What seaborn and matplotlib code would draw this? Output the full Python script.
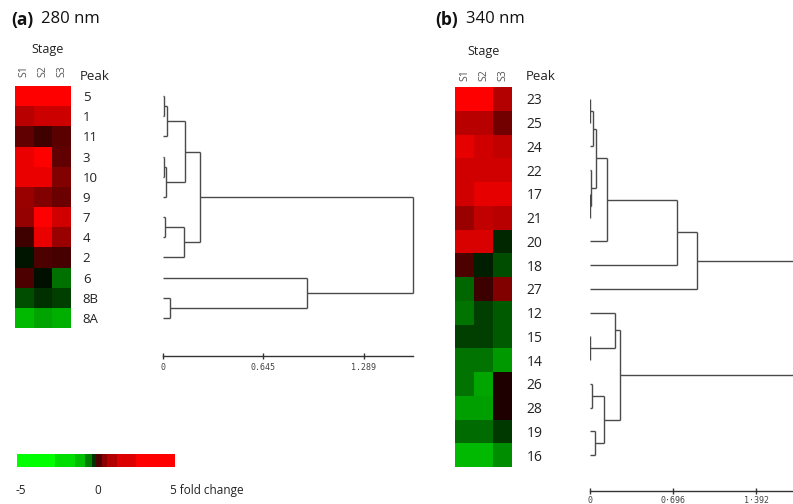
import numpy as np
import pandas as pd
import matplotlib
matplotlib.use("Agg")
import matplotlib.pyplot as plt
from matplotlib.colors import LinearSegmentedColormap, Normalize
import seaborn as sns

# ---------------- data ----------------
stages = ["S1", "S2", "S3"]

peaks_a = ["5", "1", "11", "3", "10", "9", "7", "4", "2", "6", "8B", "8A"]
fold_a = [
    [3.0, 3.0, 3.0],
    [1.8, 2.0, 2.0],
    [0.95, 0.62, 0.88],
    [2.3, 2.8, 0.95],
    [2.3, 2.3, 1.25],
    [1.5, 1.25, 1.05],
    [1.45, 2.8, 2.05],
    [0.62, 2.3, 1.5],
    [-0.2, 0.75, 0.7],
    [0.75, -0.15, -1.1],
    [-0.75, -0.45, -0.62],
    [-1.8, -1.6, -1.7],
]

peaks_b = ["23", "25", "24", "22", "17", "21", "20", "18",
           "27", "12", "15", "14", "26", "28", "19", "16"]
fold_b = [
    [2.8, 2.8, 1.75],
    [1.8, 1.8, 1.12],
    [2.25, 2.05, 1.88],
    [2.05, 2.05, 2.05],
    [2.05, 2.25, 2.25],
    [1.5, 1.88, 1.8],
    [2.12, 2.12, -0.38],
    [0.75, -0.3, -0.75],
    [-1.0, 0.6, 1.25],
    [-1.12, -0.62, -0.88],
    [-0.62, -0.62, -0.88],
    [-1.12, -1.12, -1.5],
    [-1.12, -1.62, 0.3],
    [-1.55, -1.55, 0.3],
    [-1.05, -1.05, -0.55],
    [-1.8, -1.8, -1.38],
]

# dendrogram merges: (left, right, distance); "cK" = result of K-th merge
merges_a = [
    ("5", "1", 0.005),
    ("c0", "11", 0.026),
    ("3", "10", 0.005),
    ("c2", "9", 0.021),
    ("c1", "c3", 0.144),
    ("7", "4", 0.011),
    ("c5", "2", 0.135),
    ("c4", "c6", 0.237),
    ("8B", "8A", 0.043),
    ("6", "c8", 0.925),
    ("c7", "c9", 1.606),
]
merges_b = [
    ("23", "25", 0.003),
    ("c0", "24", 0.028),
    ("17", "21", 0.002),
    ("22", "c2", 0.006),
    ("c1", "c3", 0.047),
    ("c4", "20", 0.14),
    ("c5", "18", 0.73),
    ("c6", "27", 0.90),
    ("15", "14", 0.002),
    ("12", "c8", 0.21),
    ("26", "28", 0.014),
    ("19", "16", 0.042),
    ("c10", "c11", 0.12),
    ("c9", "c12", 0.25),
    ("c7", "c13", 1.80),
]

scale_ticks_a = [0, 0.645, 1.289]
scale_labels_a = ["0", "0.645", "1.289"]
scale_max_a = 1.606
scale_ticks_b = [0, 0.696, 1.392]
scale_labels_b = ["0", "0\u00b7696", "1\u00b7392"]
scale_max_b = 1.70

cbar_edges = [-5, -2.58, -1.31, -0.68, -0.26, 0, 0.37, 0.69, 1.35, 2.56, 5]
cbar_shades = [-2.5, -2.15, -1.87, -1.25, -0.5, 0.75, 1.37, 1.75, 2.15, 2.5]
cbar_ticks = [-5, 0, 5]
cbar_labels = ["-5", "0", "5 fold change"]

# ---------------- style ----------------
sns.set_style("white")
plt.rcParams["font.family"] = ["Open Sans", "DejaVu Sans"]

W, H = 793, 504
fig = plt.figure(figsize=(W / 100, H / 100), dpi=100)
fig.patch.set_facecolor("white")


def px_rect(l, t, w, h):
    return [l / W, 1 - (t + h) / H, w / W, h / H]


cmap = LinearSegmentedColormap.from_list("gkr", [(0, 1, 0), (0, 0, 0), (1, 0, 0)])
norm = Normalize(vmin=-2.5, vmax=2.5)
line_col = "#4a4a4a"


def draw_heatmap(rect, values, rows, top_pad, right_pad, fs):
    ax = fig.add_axes(rect)
    df = pd.DataFrame(values, index=rows, columns=stages)
    sns.heatmap(df, ax=ax, cmap=cmap, vmin=-2.5, vmax=2.5, cbar=False,
                xticklabels=True, yticklabels=True, linewidths=0)
    ax.xaxis.tick_top()
    ax.yaxis.tick_right()
    ax.tick_params(axis="x", length=0, pad=top_pad, labelsize=7.5,
                   labelcolor="#555555", labelrotation=90)
    ax.tick_params(axis="y", length=0, pad=right_pad, labelsize=fs,
                   labelcolor="#222222", labelrotation=0)
    for lab in ax.get_yticklabels():
        lab.set_horizontalalignment("left")
    ax.set_xlabel("")
    ax.set_ylabel("")
    return ax


def draw_dendrogram(rect, leaves, merges, ylim_rows, xmax, ticks, labels, clip, lab_pad):
    ax = fig.add_axes(rect)
    ax.set_facecolor("none")
    pos = {name: i + 0.5 for i, name in enumerate(leaves)}
    hgt = {name: 0.0 for name in leaves}
    for k, (a, b, h) in enumerate(merges):
        ya, yb = pos[a], pos[b]
        kw = dict(color=line_col, lw=1.0, clip_on=clip, solid_capstyle="butt")
        ax.plot([hgt[a], h], [ya, ya], **kw)
        ax.plot([hgt[b], h], [yb, yb], **kw)
        ax.plot([h, h], [ya, yb], **kw)
        pos[f"c{k}"] = (ya + yb) / 2
        hgt[f"c{k}"] = h
    ax.set_xlim(0, xmax)
    ax.set_ylim(ylim_rows, 0)
    for s in ["top", "right", "left"]:
        ax.spines[s].set_visible(False)
    ax.spines["bottom"].set_color("#333333")
    ax.spines["bottom"].set_linewidth(1.0)
    ax.set_yticks([])
    ax.set_xticks(ticks)
    ax.set_xticklabels(labels, family="DejaVu Sans Mono")
    ax.tick_params(axis="x", direction="inout", length=5, width=1,
                   color="#333333", labelsize=6, labelcolor="#444444", pad=lab_pad,
                   bottom=True)
    return ax


# ---------------- panel (a) ----------------
draw_heatmap(px_rect(15, 86, 56, 242), fold_a, peaks_a, top_pad=6.5, right_pad=8.5, fs=9.5)
draw_dendrogram(px_rect(163, 86, 250, 270), peaks_a, merges_a,
                270 / (242 / 12), scale_max_a, scale_ticks_a, scale_labels_a,
                clip=False, lab_pad=2.5)

# ---------------- panel (b) ----------------
draw_heatmap(px_rect(455, 87, 57, 380), fold_b, peaks_b, top_pad=4, right_pad=10.5, fs=10)
draw_dendrogram(px_rect(590, 87, 203, 404), peaks_b, merges_b,
                404 / (380 / 16), scale_max_b, scale_ticks_b, scale_labels_b,
                clip=True, lab_pad=1)

# ---------------- colour key ----------------
cax = fig.add_axes(px_rect(17, 454, 158, 13))
cax.pcolormesh(cbar_edges, [0, 1], np.array([cbar_shades]), cmap=cmap, norm=norm)
cax.set_xlim(-5, 5)
cax.set_ylim(0, 1)
cax.axis("off")
for t, lab in zip(cbar_ticks, cbar_labels):
    ha = "left" if t == 5 else "center"
    x = t - 0.3 if t == 5 else t + 0.25 if t == -5 else t + 0.1
    cax.text(x, -1.8, lab, ha=ha, va="center", fontsize=8.5, color="#222222")


# ---------------- titles & labels ----------------
def ftext(x, y, s, **kw):
    fig.text(x / W, 1 - y / H, s, **kw)


ftext(11, 20, "(a)", fontsize=12.5, fontweight="bold", va="center", ha="left", color="#111111")
ftext(41, 19, "280 nm", fontsize=12, va="center", ha="left", color="#111111")
ftext(435, 20, "(b)", fontsize=12.5, fontweight="bold", va="center", ha="left", color="#111111")
ftext(466, 19, "340 nm", fontsize=12, va="center", ha="left", color="#111111")

ftext(48, 50, "Stage", fontsize=9, va="center", ha="center", color="#222222")
ftext(80, 77, "Peak", fontsize=9.5, va="center", ha="left", color="#222222")
ftext(484, 52, "Stage", fontsize=9, va="center", ha="center", color="#222222")
ftext(526, 77, "Peak", fontsize=9.5, va="center", ha="left", color="#222222")

fig.savefig("out.png", dpi=100)
